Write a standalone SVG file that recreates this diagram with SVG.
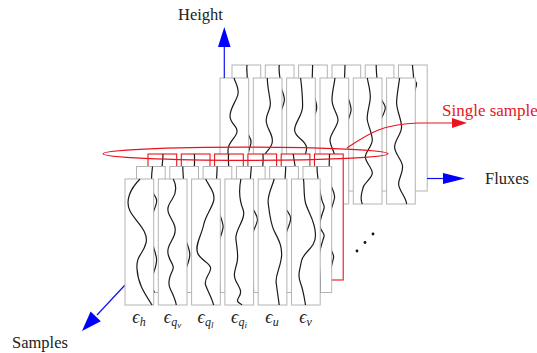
<svg xmlns="http://www.w3.org/2000/svg" width="537" height="353" viewBox="0 0 537 353">
<style>
.p{fill:#fff;stroke:#b4b4b4;stroke-width:1}
.r{fill:#fff;stroke:#e8141e;stroke-width:1.1}
.w{fill:none;stroke:#1a1a1a;stroke-width:1.2}
.ax{stroke:#1010ee;stroke-width:1.2;fill:none}
.ah{fill:#0000ff}
.red{stroke:#e8141e;stroke-width:1.2;fill:none}
.s{font-size:12px}
.ss{font-size:9px}
</style>
<rect width="537" height="353" fill="#fff"/>

<!-- back layer B2 -->
<g id="layer-b2">
<g id="b2-0" transform="translate(232,65)"><rect class="p" width="28.7" height="126"/><path class="w" d="M15,0 C14,6 16,10 15,14 S11,30 12,40 S15,56 15,64 S20,72 19,78 S14,92 14,100 S16,118 15,126"/></g>
<g id="b2-1" transform="translate(265.3,65)"><rect class="p" width="28.7" height="126"/><path class="w" d="M14,0 C13,6 15,12 15,18 S20,30 19,36 S13,50 13,60 S16,80 15,96 S13,116 14,126"/></g>
<g id="b2-2" transform="translate(298.6,65)"><rect class="p" width="28.7" height="126"/><path class="w" d="M14,0 C14,8 13,16 14,24 S19,38 18,44 S12,58 12,70 S15,100 14,126"/></g>
<g id="b2-3" transform="translate(332,65)"><rect class="p" width="28.7" height="126"/><path class="w" d="M13,0 C13,6 12,14 13,22 S20,40 19,46 S13,60 13,70 S16,100 15,126"/></g>
<g id="b2-4" transform="translate(365.2,65)"><rect class="p" width="28.7" height="126"/><path class="w" d="M11,0 C11,8 12,16 13,26 S21,38 20,44 S13,56 13,66 S15,100 15,126"/></g>
<g id="b2-5" transform="translate(398.5,65)"><rect class="p" width="28.7" height="126"/><path class="w" d="M14,0 C14,4 15,8 15,12 S19,16 18,20 S14,30 14,40 S13,100 13,126"/></g>
</g>

<!-- back layer B1 -->
<g id="layer-b1">
<g id="b1-0" transform="translate(220,78)"><rect class="p" width="28.7" height="126"/><path class="w" d="M14,0 C16,6 19,10 18,16 S10,30 10,38 S18,48 17,54 S8,64 8,72 S8,90 9,100 S13,116 14,126"/></g>
<g id="b1-1" transform="translate(253.3,78)"><rect class="p" width="28.7" height="126"/><path class="w" d="M14,0 C14,8 16,16 17,24 S12,36 13,44 S20,56 19,64 S10,74 10,82 S14,100 15,110 S16,122 16,126"/></g>
<g id="b1-2" transform="translate(286.6,78)"><rect class="p" width="28.7" height="126"/><path class="w" d="M14,0 C15,8 16,18 16,28 S8,44 8,52 S20,62 20,70 S12,90 12,100 S15,120 15,126"/></g>
<g id="b1-3" transform="translate(320,78)"><rect class="p" width="28.7" height="126"/><path class="w" d="M15,0 C14,8 12,14 12,22 S18,36 18,42 S10,56 10,62 S15,74 15,80 S19,100 19,110 S16,122 16,126"/></g>
<g id="b1-4" transform="translate(353.3,78)"><rect class="p" width="28.7" height="126"/><path class="w" d="M14,0 C15,6 17,12 17,19 S13,36 14,42 S19,56 19,62 S12,74 12,79 S19,90 19,95 S11,105 10,109 S6,120 9,126"/></g>
<g id="b1-5" transform="translate(386.6,78)"><rect class="p" width="28.7" height="126"/><path class="w" d="M13,0 C12,8 10,18 10,25 S15,42 15,49 S8,62 8,69 S16,82 16,89 S12,100 12,106 S20,120 20,126"/></g>
</g>

<!-- omitted layers -->
<g id="dots" fill="#111">
<circle cx="357" cy="251" r="1.4"/><circle cx="365" cy="242.5" r="1.4"/><circle cx="373" cy="234" r="1.4"/>
</g>

<!-- highlighted single-sample layer -->
<g id="layer-sample">
<g id="s-0" transform="translate(148,154)"><rect class="r" width="28.7" height="126"/><path class="w" d="M15,0 C15,8 13,16 14,24 S19,40 19,48 S13,66 13,76 S18,96 17,104 S14,120 14,126"/></g>
<g id="s-1" transform="translate(181.3,154)"><rect class="r" width="28.7" height="126"/><path class="w" d="M13,0 C14,8 12,18 13,28 S20,44 19,52 S12,70 13,80 S19,98 18,106 S15,120 15,126"/></g>
<g id="s-2" transform="translate(214.6,154)"><rect class="r" width="28.7" height="126"/><path class="w" d="M14,0 C13,8 15,16 15,26 S20,36 19,44 S12,60 12,70 S18,90 18,100 S14,118 14,126"/></g>
<g id="s-3" transform="translate(247.9,154)"><rect class="r" width="28.7" height="126"/><path class="w" d="M15,0 C16,8 14,16 14,24 S20,42 20,50 S13,64 13,74 S19,92 19,100 S15,120 15,126"/></g>
<g id="s-4" transform="translate(281.2,154)"><rect class="r" width="28.7" height="126"/><path class="w" d="M12,0 C13,8 15,16 15,24 S20,40 19,48 S13,64 13,74 S18,90 18,98 S14,118 14,126"/></g>
<g id="s-5" transform="translate(314.5,154)"><rect class="r" width="28.7" height="126"/><path class="w" d="M15,0 C15,8 14,18 15,26 S21,38 20,44 S14,60 14,70 S16,86 16,92 S20,100 19,104 S15,118 15,126"/></g>
</g>

<!-- connectors / annotations -->
<g id="connectors">
<ellipse class="red" cx="245.5" cy="153.7" rx="142.5" ry="6.6"/>
<path class="red" d="M347,148 C368,134 382,124 418,123 L455,123"/>
<path d="M467,123 L452,118 L452,128 Z" fill="#e8141e"/>
<path class="ax" d="M224.3,78 L224.3,44"/>
<path class="ah" d="M224.3,27 L218,47 L230.6,47 Z"/>
<path class="ax" d="M427,178.5 L447,178.5"/>
<path class="ah" d="M465,178.5 L443,173 L443,184 Z"/>
<path class="ax" d="M125,285 L97,315"/>
<path class="ah" d="M82,331 L90.6,311.6 L100.8,321.2 Z"/>
</g>

<!-- layer L1 -->
<g id="layer-l1">
<g id="l1-0" transform="translate(136.5,166.5)"><rect class="p" width="28.7" height="126"/><path class="w" d="M16,0 C15,8 14,16 16,24 S21,30 20,36 S13,52 13,62 S19,84 20,92 S15,108 15,116 S18,124 18,126"/></g>
<g id="l1-1" transform="translate(169.8,166.5)"><rect class="p" width="28.7" height="126"/><path class="w" d="M13,0 C13,10 15,20 14,30 S11,50 12,60 S20,80 20,88 S14,104 14,112 S16,124 16,126"/></g>
<g id="l1-2" transform="translate(203.1,166.5)"><rect class="p" width="28.7" height="126"/><path class="w" d="M14,0 C14,10 12,24 13,34 S20,54 20,60 S14,76 14,86 S17,116 17,126"/></g>
<g id="l1-3" transform="translate(236.4,166.5)"><rect class="p" width="28.7" height="126"/><path class="w" d="M15,0 C14,10 13,24 14,34 S22,48 21,54 S13,70 13,80 S15,100 15,108 S18,120 17,126"/></g>
<g id="l1-4" transform="translate(269.7,166.5)"><rect class="p" width="28.7" height="126"/><path class="w" d="M16,0 C16,10 14,24 14,34 S21,46 21,52 S14,68 14,78 S16,110 16,126"/></g>
<g id="l1-5" transform="translate(303,166.5)"><rect class="p" width="28.7" height="126"/><path class="w" d="M14,0 C14,10 16,20 18,30 S22,38 21,42 S16,54 17,60 S22,66 21,70 S16,84 16,92 S18,110 17,126"/></g>
</g>

<!-- front layer L0 -->
<g id="layer-front">
<g id="f-h" transform="translate(125,179)"><rect class="p" width="28.7" height="126"/><path class="w" d="M15,0 C5,10 0,22 5,32 S24,52 21,64 S11,76 12,90 S18,112 27,126"/></g>
<g id="f-qv" transform="translate(158.3,179)"><rect class="p" width="28.7" height="126"/><path class="w" d="M15,0 C19,8 18,14 14,20 S8,30 11,36 S19,48 16,56 S8,68 10,76 S17,86 14,92 S9,104 12,110 S17,120 18,126"/></g>
<g id="f-ql" transform="translate(191.6,179)"><rect class="p" width="28.7" height="126"/><path class="w" d="M14,0 C18,8 24,14 22,22 S14,36 12,46 S3,66 6,74 S20,84 19,90 S12,100 14,106 S20,118 22,126"/></g>
<g id="f-qi" transform="translate(224.9,179)"><rect class="p" width="28.7" height="126"/><path class="w" d="M16,0 C14,10 14,20 18,30 S10,50 11,60 S14,76 12,84 S8,96 11,102 S18,112 14,118 S16,124 17,126"/></g>
<g id="f-u" transform="translate(258.2,179)"><rect class="p" width="28.7" height="126"/><path class="w" d="M16,0 C14,8 9,16 10,24 S12,44 16,52 S25,68 23,80 S17,96 18,104 S20,118 21,126"/></g>
<g id="f-v" transform="translate(291.5,179)"><rect class="p" width="28.7" height="126"/><path class="w" d="M12,0 C13,8 12,16 14,24 S24,42 24,56 S12,72 10,82 S6,96 9,104 S13,120 14,126"/></g>
</g>

<!-- labels -->
<g id="labels" font-family="Liberation Serif, DejaVu Serif, serif" fill="#222">
<text x="178" y="20" font-size="16.5">Height</text>
<text x="485" y="184" font-size="16.5">Fluxes</text>
<text x="12" y="348" font-size="16.5">Samples</text>
<text x="442" y="116" font-size="17" fill="#e8141e">Single sample</text>
<g font-style="italic" font-size="18">
<text x="139" y="323" text-anchor="middle">ϵ<tspan class="s" dy="3">h</tspan></text>
<text x="172.5" y="323" text-anchor="middle">ϵ<tspan class="s" dy="3">q</tspan><tspan class="ss" dy="2">v</tspan></text>
<text x="205.5" y="323" text-anchor="middle">ϵ<tspan class="s" dy="3">q</tspan><tspan class="ss" dy="2">l</tspan></text>
<text x="239" y="323" text-anchor="middle">ϵ<tspan class="s" dy="3">q</tspan><tspan class="ss" dy="2">i</tspan></text>
<text x="272" y="323" text-anchor="middle">ϵ<tspan class="s" dy="3">u</tspan></text>
<text x="305.5" y="323" text-anchor="middle">ϵ<tspan class="s" dy="3">v</tspan></text>
</g>
</g>
</svg>
